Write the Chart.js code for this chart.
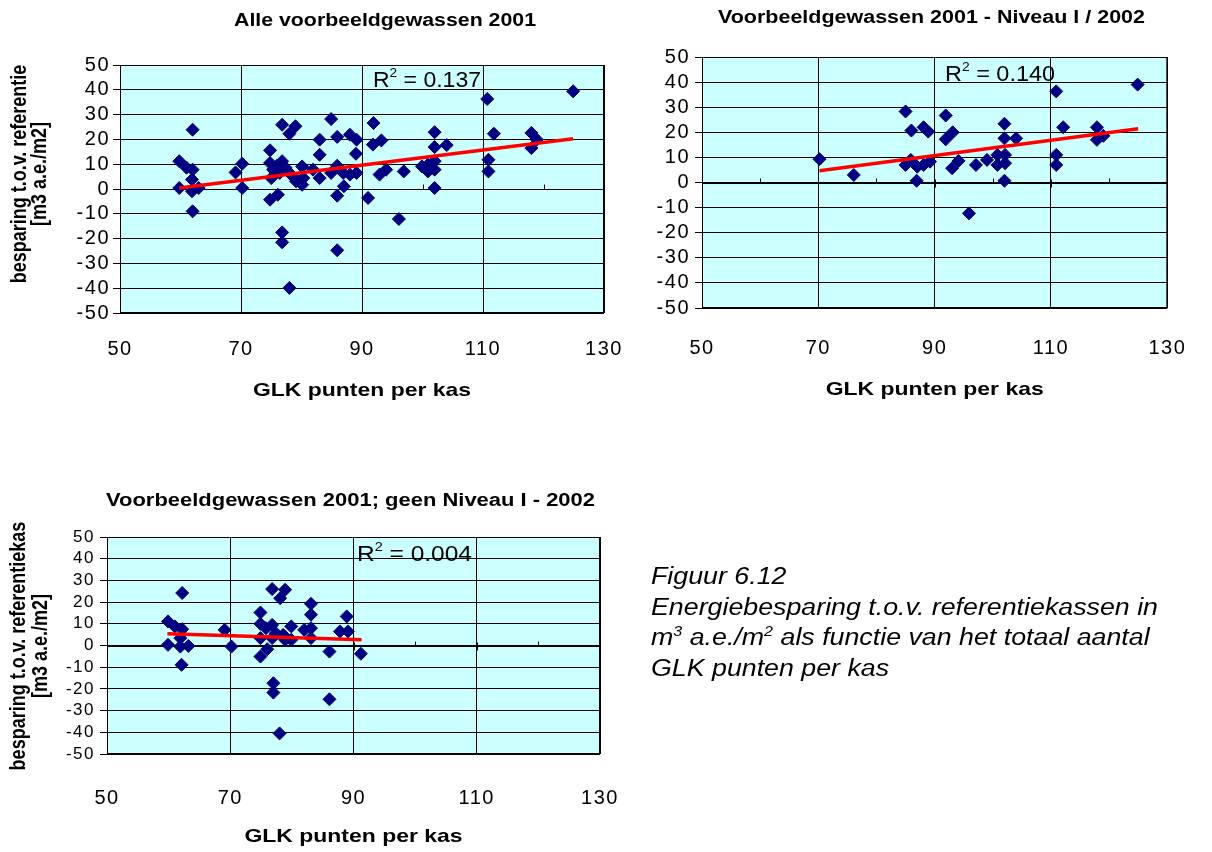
<!DOCTYPE html>
<html>
<head>
<meta charset="utf-8">
<script src="https://cdn.jsdelivr.net/npm/chart.js@4.4.1/dist/chart.umd.min.js"></script>
<style>
  html, body { margin: 0; padding: 0; background: #fff; }
  body { width: 1212px; height: 852px; position: relative; overflow: hidden;
         font-family: "Liberation Sans", Arial, Helvetica, sans-serif; }
  canvas { position: absolute; left: 0; top: 0; }
  #caption { position: absolute; left: 651px; top: 561px; font-style: italic; font-size: 23px;
             line-height: 30.7px; color: #000; transform-origin: 0 0; white-space: nowrap; }
  #caption sup { font-size: 0.6em; line-height: 0; vertical-align: 0.62em; }
</style>
</head>
<body>
<canvas id="chartAll" width="1212" height="852"></canvas>
<canvas id="chartNiveau" width="1212" height="852"></canvas>
<canvas id="chartGeen" width="1212" height="852"></canvas>
<div id="caption">
  <div><span>Figuur 6.12</span></div>
  <div><span id="capWide">Energiebesparing t.o.v. referentiekassen in</span></div>
  <div><span>m<sup>3</sup> a.e./m<sup>2</sup> als functie van het totaal aantal</span></div>
  <div><span>GLK punten per kas</span></div>
</div>
<script>
// ---- Data: GLK points per greenhouse (x) and saving vs. reference (y, m3 a.e./m2) ----

// All example crops 2001
const glkAll = [62.0, 59.8, 61.0, 62.0, 61.9, 59.8, 61.9, 63.0, 62.0, 69.1, 70.2, 70.2,
  74.8, 74.8, 76.8, 79.0, 78.0, 76.8, 75.3, 76.4, 75.0, 78.0, 79.1, 80.1, 80.1, 80.3,
  74.8, 76.1, 76.8, 76.8, 78.0, 77.4, 78.6, 76.0,
  83.0, 83.0, 83.0, 84.9, 85.9, 88.0, 89.1, 89.0, 85.9, 84.9, 86.9, 88.0, 89.1, 87.0,
  85.9, 85.9, 81.9, 91.9, 91.8, 93.2, 91.0, 92.9, 94.0, 96.9, 96.1, 99.9,
  102.0, 102.0, 104.0, 100.9, 102.0, 100.9, 102.0, 102.0,
  110.7, 111.8, 110.9, 110.9, 118.0, 118.9, 118.0, 124.9];
const besparingAll = [23.9, 11.2, 8.6, 7.8, 3.8, 0.4, -0.9, 0.4, -9.0, 6.7, 10.2, 0.4,
  15.6, 10.5, 25.9, 25.3, 22.3, 11.2, 7.8, 6.5, 4.4, 6.5, 3.1, 9.1, 1.7, 4.4,
  -4.3, -2.3, -17.5, -21.5, -39.9, 8.5, 5.0, 9.5,
  19.9, 13.8, 4.4, 28.2, 21.0, 21.9, 19.9, 14.2, 9.4, 6.5, 6.5, 5.8, 6.5, 1.1,
  -2.7, -24.7, 7.8, 26.6, 17.9, 19.6, -3.6, 5.8, 7.8, 7.1, -12.1, 9.1,
  22.9, 16.9, 17.7, 9.8, 11.2, 7.1, 7.8, 0.4,
  36.3, 22.3, 11.8, 7.1, 22.6, 19.9, 16.5, 39.4];
const trendAllX = [59.8, 124.9];
const trendAllY = [0.4, 20.3];

// Example crops 2001 - level I / 2002
const glkNiveau = [70.2, 76.1, 85.0, 86.0, 88.1, 88.9, 85.0, 85.9, 87.0, 86.9, 88.1, 89.2,
  91.9, 91.9, 93.1, 93.0, 94.1, 97.1, 99.0, 95.9,
  102.0, 102.0, 104.0, 100.8, 102.1, 100.8, 102.1, 102.0,
  110.9, 112.1, 110.9, 110.9, 117.9, 117.9, 119.0, 124.9];
const besparingNiveau = [9.3, 3.0, 28.3, 20.7, 22.0, 20.3, 7.0, 9.0, 6.3, 0.7, 7.0, 8.3,
  26.7, 17.2, 20.0, 5.7, 8.6, 7.0, 9.0, -12.3,
  23.4, 17.6, 17.6, 11.0, 11.0, 7.0, 7.7, 0.7,
  36.3, 22.0, 11.0, 7.0, 22.0, 17.0, 18.6, 39.0];
const trendNiveauX = [70.2, 125.0];
const trendNiveauY = [4.7, 21.4];

// Example crops 2001; no level I - 2002
const glkGeen = [62.2, 59.9, 61.0, 62.2, 61.9, 59.9, 61.9, 63.2, 62.1, 69.1, 70.2,
  74.9, 74.9, 74.9, 74.9, 76.0, 76.8, 78.9, 78.1, 76.8, 75.8, 77.4, 76.8, 78.9, 79.9,
  79.9, 78.6, 77.0, 77.0, 78.0, 82.0, 83.1, 83.1, 83.1, 83.1, 86.1, 86.1, 88.9, 87.8,
  89.1, 91.2];
const besparingGeen = [24.2, 11.1, 8.8, 7.5, 3.4, 0.3, -0.5, -0.2, -8.9, 7.2, -0.5,
  15.2, 10.0, 3.4, -5.1, -1.7, 26.0, 25.7, 21.8, 9.5, 8.0, 5.7, 3.4, 2.6, 8.8,
  2.6, 4.9, -17.4, -21.7, -40.5, 7.2, 19.2, 14.2, 8.0, 3.4, -2.8, -24.8, 13.4, 6.5,
  6.5, -3.8];
const trendGeenX = [59.8, 91.3];
const trendGeenY = [5.4, 2.6];

// Axis ticks and texts
const xTickValues = [50, 70, 90, 110, 130];
const xMinorTickValues = [50, 60, 70, 80, 90, 100, 110, 120, 130];
const yTickValues = [-50, -40, -30, -20, -10, 0, 10, 20, 30, 40, 50];
const chartTitles = ['Alle voorbeeldgewassen 2001',
                     'Voorbeeldgewassen 2001 - Niveau I / 2002',
                     'Voorbeeldgewassen 2001; geen Niveau I - 2002'];
const r2Texts = ['0.137', '0.140', '0.004'];
const xAxisTitle = 'GLK punten per kas';
const yAxisTitleAll = ['besparing t.o.v. referentie', '[m3 a.e./m2]'];
const yAxisTitleGeen = ['besparing t.o.v. referentiekas', '[m3 a.e./m2]'];

// ---- Drawing helpers ----
const FONT = '"Liberation Sans", Arial, Helvetica, sans-serif';
const PAGE_W = 1212, PAGE_H = 852, X_AXIS_H = 80;

function pairs(xs, ys) { return xs.map((x, i) => ({ x: x, y: ys[i] })); }

function drawWideText(ctx, text, x, y, font, width, align) {
  ctx.save();
  ctx.letterSpacing = '0px';
  ctx.font = font;
  const w = ctx.measureText(text).width;
  ctx.translate(x, y);
  ctx.scale(width / w, 1);
  ctx.textAlign = align || 'center';
  ctx.textBaseline = 'alphabetic';
  ctx.fillStyle = '#000';
  ctx.fillText(text, 0, 0);
  ctx.restore();
}

function drawR2(ctx, value, left, baseline, width) {
  const big = '22px ' + FONT, small = '13px ' + FONT;
  const rest = ' = ' + value;
  ctx.save();
  ctx.letterSpacing = '0px';
  ctx.font = big;
  const wR = ctx.measureText('R').width, wRest = ctx.measureText(rest).width;
  ctx.font = small;
  const w2 = ctx.measureText('2').width;
  ctx.translate(left, baseline);
  ctx.scale(width / (wR + w2 + wRest), 1);
  ctx.fillStyle = '#000';
  ctx.textAlign = 'left';
  ctx.textBaseline = 'alphabetic';
  ctx.font = big;  ctx.fillText('R', 0, 0);
  ctx.font = small; ctx.fillText('2', wR, -10);
  ctx.font = big;  ctx.fillText(rest, wR + w2, 0);
  ctx.restore();
}

function drawYTitle(ctx, lines, xs, cy, size) {
  lines.forEach((t, i) => {
    ctx.save();
    ctx.letterSpacing = '0px';
    ctx.translate(xs[i], cy);
    ctx.rotate(-Math.PI / 2);
    ctx.scale(1, 1.2);
    ctx.font = 'bold ' + size + 'px ' + FONT;
    ctx.textAlign = 'center';
    ctx.textBaseline = 'middle';
    ctx.fillStyle = '#000';
    ctx.fillText(t, 0, 0);
    ctx.restore();
  });
}

// Plot background, frame, zero axis with tick marks and all titles
function framePlugin(spec) {
  return {
    id: 'frame',
    beforeDraw(chart) {
      const a = chart.chartArea, ctx = chart.ctx;
      ctx.save();
      ctx.fillStyle = '#CCFFFF';
      ctx.fillRect(a.left, a.top, a.right - a.left, a.bottom - a.top);
      ctx.restore();
      // slightly wider digits on the axes
      ctx.letterSpacing = '1.5px';
    },
    beforeDatasetsDraw(chart) {
      const a = chart.chartArea, ctx = chart.ctx;
      const xs = chart.scales.x, ys = chart.scales.y;
      ctx.save();
      ctx.strokeStyle = '#000';
      ctx.lineWidth = 1;
      ctx.strokeRect(a.left + 0.5, a.top + 0.5, a.right - a.left - 1, a.bottom - a.top - 1);
      const y0 = Math.round(ys.getPixelForValue(0)) + 0.5;
      ctx.beginPath();
      ctx.moveTo(a.left, y0); ctx.lineTo(a.right, y0);
      xMinorTickValues.forEach(v => {
        const px = Math.round(xs.getPixelForValue(v)) + 0.5;
        const major = xTickValues.indexOf(v) >= 0;
        ctx.moveTo(px, major ? y0 - 4 : y0 - 5);
        ctx.lineTo(px, major ? y0 + 4 : y0);
      });
      ctx.stroke();
      ctx.restore();
    },
    afterDraw(chart) {
      const ctx = chart.ctx, a = chart.chartArea;
      drawWideText(ctx, spec.title, spec.titleX, spec.titleY, 'bold 18px ' + FONT, spec.titleW, 'center');
      drawWideText(ctx, xAxisTitle, (a.left + a.right) / 2, spec.xTitleY, 'bold 19px ' + FONT, 218, 'center');
      if (spec.yTitle) drawYTitle(ctx, spec.yTitle, spec.yTitleX, spec.yTitleY, spec.yTitleSize);
      drawR2(ctx, spec.r2, spec.r2X, spec.r2Y, spec.r2W);
    }
  };
}

function buildChart(canvasId, spec) {
  const area = spec.area;
  return new Chart(document.getElementById(canvasId), {
    type: 'scatter',
    data: {
      datasets: [
        { data: pairs(spec.trendX, spec.trendY), showLine: true, borderColor: '#FF0000',
          borderWidth: 3.5, pointRadius: 0, pointHoverRadius: 0, order: 0 },
        { data: pairs(spec.xs, spec.ys), pointStyle: 'rectRot', pointRadius: 6.5,
          backgroundColor: '#000080', borderColor: '#000080', borderWidth: 1, order: 1 }
      ]
    },
    options: {
      responsive: false,
      animation: false,
      events: [],
      layout: { padding: { left: 0, top: area.t, right: PAGE_W - area.r,
                           bottom: PAGE_H - area.b - X_AXIS_H } },
      plugins: { legend: { display: false }, tooltip: { enabled: false }, title: { display: false } },
      scales: {
        x: {
          type: 'linear', min: 50, max: 130,
          afterBuildTicks(s) { s.ticks = xTickValues.map(v => ({ value: v })); },
          afterFit(s) { s.height = X_AXIS_H; },
          ticks: { color: '#000', font: { family: FONT, size: 20 }, padding: spec.xTickPad,
                   maxRotation: 0, autoSkip: false },
          grid: { color: '#000', lineWidth: 1, drawTicks: false },
          border: { display: false }
        },
        y: {
          type: 'linear', min: -50, max: 50,
          afterBuildTicks(s) { s.ticks = yTickValues.map(v => ({ value: v })); },
          afterFit(s) { s.width = area.l; },
          ticks: { color: '#000', font: { family: FONT, size: spec.yFont }, padding: spec.yTickPad,
                   autoSkip: false },
          grid: { color: '#000', lineWidth: 1, drawTicks: true, tickLength: 7, tickColor: '#000' },
          border: { display: false }
        }
      }
    },
    plugins: [framePlugin(spec)]
  });
}

buildChart('chartAll', {
  xs: glkAll, ys: besparingAll, trendX: trendAllX, trendY: trendAllY,
  area: { l: 120, r: 604, t: 65, b: 313 },
  title: chartTitles[0], titleX: 385, titleY: 26, titleW: 302,
  xTitleY: 396, xTickPad: 24, yFont: 20, yTickPad: 3,
  yTitle: yAxisTitleAll, yTitleX: [20.5, 40], yTitleY: 174, yTitleSize: 18,
  r2: r2Texts[0], r2X: 373, r2Y: 87, r2W: 108
});

buildChart('chartNiveau', {
  xs: glkNiveau, ys: besparingNiveau, trendX: trendNiveauX, trendY: trendNiveauY,
  area: { l: 702, r: 1181, t: 57, b: 308 },
  title: chartTitles[1], titleX: 931.5, titleY: 23, titleW: 427,
  xTitleY: 395, xTickPad: 28, yFont: 20, yTickPad: 5,
  yTitle: null,
  r2: r2Texts[1], r2X: 945, r2Y: 81, r2W: 110
});

buildChart('chartGeen', {
  xs: glkGeen, ys: besparingGeen, trendX: trendGeenX, trendY: trendGeenY,
  area: { l: 107, r: 600, t: 537, b: 754 },
  title: chartTitles[2], titleX: 350.5, titleY: 506, titleW: 489,
  xTitleY: 842, xTickPad: 32, yFont: 17, yTickPad: 5,
  yTitle: yAxisTitleGeen, yTitleX: [19, 41], yTitleY: 646, yTitleSize: 18,
  r2: r2Texts[2], r2X: 357, r2Y: 561, r2W: 115
});

// Caption: widen text to its column width
(function () {
  const cap = document.getElementById('caption');
  const w = document.getElementById('capWide').getBoundingClientRect().width;
  cap.style.transform = 'scaleX(' + (507 / w) + ')';
})();
</script>
</body>
</html>
